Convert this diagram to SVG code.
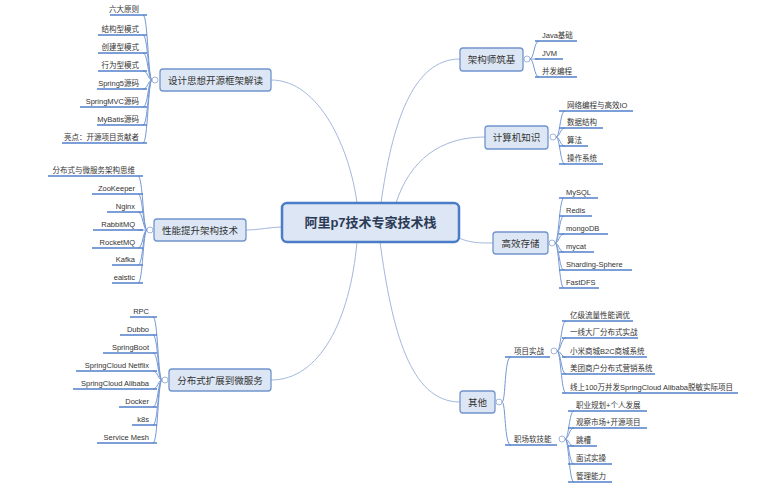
<svg xmlns="http://www.w3.org/2000/svg" width="761" height="500" viewBox="0 0 761 500">
<style>
text{font-family:"Liberation Sans","Noto Sans CJK SC",sans-serif;fill:#333}
.t{font-size:9.5px;text-anchor:middle}
.c{font-size:7.5px}
.l{text-anchor:end}
.box{fill:#dce6f4;stroke:#7094cc;stroke-width:1.3}
.ul{stroke:#4f7fc9;stroke-width:1.5;fill:none}
.main{fill:none;stroke:#a4b8dd;stroke-width:1}
.br{fill:none;stroke:#7598d4;stroke-width:1}
.dot{fill:#fff;stroke:#8aa3cf;stroke-width:0.8}
</style>
<rect width="761" height="500" fill="#fff"/>
<g id="connectors">
<path class="main" d="M357,203 C350,150 320,80 271,80"/>
<path class="main" d="M381,203 C392,125 412,59 460,59"/>
<path class="main" d="M396,203 C410,160 440,137 485,137"/>
<path class="main" d="M246,230 C260,230 270,227 282,227"/>
<path class="main" d="M459,238 C470,243 480,243 493,243"/>
<path class="main" d="M357,242 C350,320 320,380 271,380"/>
<path class="main" d="M380,242 C392,330 410,402 460,402"/>
<!-- group 1 brackets -->
<path class="br" d="M152,80 C148,80 148,15 143,15"/>
<path class="br" d="M152,80 C148,80 148,35 143,35"/>
<path class="br" d="M152,80 C148,80 148,53 143,53"/>
<path class="br" d="M152,80 C148,80 148,71 143,71"/>
<path class="br" d="M152,80 C148,80 148,89 143,89"/>
<path class="br" d="M152,80 C148,80 148,107 143,107"/>
<path class="br" d="M152,80 C148,80 148,125 143,125"/>
<path class="br" d="M152,80 C148,80 148,143 143,143"/>
<!-- group 2 -->
<path class="br" d="M147,230 C143,230 143,176 138,176"/>
<path class="br" d="M147,230 C143,230 143,194 138,194"/>
<path class="br" d="M147,230 C143,230 143,212 138,212"/>
<path class="br" d="M147,230 C143,230 143,230 138,230"/>
<path class="br" d="M147,230 C143,230 143,248 138,248"/>
<path class="br" d="M147,230 C143,230 143,265 138,265"/>
<path class="br" d="M147,230 C143,230 143,283 138,283"/>
<!-- group 3 -->
<path class="br" d="M162,380 C158,380 158,317 153,317"/>
<path class="br" d="M162,380 C158,380 158,335 153,335"/>
<path class="br" d="M162,380 C158,380 158,353 153,353"/>
<path class="br" d="M162,380 C158,380 158,371 153,371"/>
<path class="br" d="M162,380 C158,380 158,389 153,389"/>
<path class="br" d="M162,380 C158,380 158,407 153,407"/>
<path class="br" d="M162,380 C158,380 158,425 153,425"/>
<path class="br" d="M162,380 C158,380 158,443 153,443"/>
<!-- 架构师筑基 -->
<path class="br" d="M530,59 C534,59 534,41 539,41"/>
<path class="br" d="M530,59 C534,59 534,59 539,59"/>
<path class="br" d="M530,59 C534,59 534,77 539,77"/>
<!-- 计算机知识 -->
<path class="br" d="M556,137 C560,137 560,111 565,111"/>
<path class="br" d="M556,137 C560,137 560,128 565,128"/>
<path class="br" d="M556,137 C560,137 560,146 565,146"/>
<path class="br" d="M556,137 C560,137 560,164 565,164"/>
<!-- 高效存储 -->
<path class="br" d="M555,243 C559,243 559,198 564,198"/>
<path class="br" d="M555,243 C559,243 559,216 564,216"/>
<path class="br" d="M555,243 C559,243 559,234 564,234"/>
<path class="br" d="M555,243 C559,243 559,252 564,252"/>
<path class="br" d="M555,243 C559,243 559,270 564,270"/>
<path class="br" d="M555,243 C559,243 559,288 564,288"/>
<!-- 其他 -->
<path class="br" d="M502,402 C506,402 504,357 511,357"/>
<path class="br" d="M502,402 C506,402 504,445 511,445"/>
<!-- 项目实战 -->
<path class="br" d="M557,351 C561,351 561,321 566,321"/>
<path class="br" d="M557,351 C561,351 561,338 566,338"/>
<path class="br" d="M557,351 C561,351 561,357 566,357"/>
<path class="br" d="M557,351 C561,351 561,374 566,374"/>
<path class="br" d="M557,351 C561,351 561,393 566,393"/>
<!-- 职场软技能 -->
<path class="br" d="M565,439 C569,439 569,411 574,411"/>
<path class="br" d="M565,439 C569,439 569,428 574,428"/>
<path class="br" d="M565,439 C569,439 569,446 574,446"/>
<path class="br" d="M565,439 C569,439 569,464 574,464"/>
<path class="br" d="M565,439 C569,439 569,482 574,482"/>
</g>

<g id="center">
<rect x="282" y="203" width="177" height="39" rx="5" fill="#dce6f4" stroke="#4a7cc7" stroke-width="2.5"/>
<text x="370.5" y="227" text-anchor="middle" font-size="13" font-weight="bold" style="fill:#2b3a55">阿里p7技术专家技术栈</text>
</g>

<g id="node-design">
<rect class="box" x="160" y="69" width="111" height="22" rx="3"/>
<text class="t" x="215.5" y="83.5">设计思想开源框架解读</text>
<circle class="dot" cx="155" cy="80" r="3"/>
</g>
<g id="design-children">
<line class="ul" x1="110" y1="15" x2="147" y2="15"/><text class="c l" x="139" y="12">六大原则</text>
<line class="ul" x1="98" y1="35" x2="147" y2="35"/><text class="c l" x="139" y="32">结构型模式</text>
<line class="ul" x1="98" y1="53" x2="147" y2="53"/><text class="c l" x="139" y="50">创建型模式</text>
<line class="ul" x1="98" y1="71" x2="147" y2="71"/><text class="c l" x="139" y="68">行为型模式</text>
<line class="ul" x1="97" y1="89" x2="147" y2="89"/><text class="c l" x="139" y="86">Spring5源码</text>
<line class="ul" x1="80" y1="107" x2="147" y2="107"/><text class="c l" x="139" y="104">SpringMVC源码</text>
<line class="ul" x1="97" y1="125" x2="147" y2="125"/><text class="c l" x="139" y="122">MyBatis源码</text>
<line class="ul" x1="62" y1="143" x2="147" y2="143"/><text class="c l" x="139" y="140">亮点：开源项目贡献者</text>
</g>

<g id="node-perf">
<rect class="box" x="154" y="219" width="92" height="22" rx="3"/>
<text class="t" x="200" y="233.5">性能提升架构技术</text>
<circle class="dot" cx="150" cy="230" r="3"/>
</g>
<g id="perf-children">
<line class="ul" x1="48" y1="176" x2="143" y2="176"/><text class="c l" x="135" y="173">分布式与微服务架构思维</text>
<line class="ul" x1="92" y1="194" x2="143" y2="194"/><text class="c l" x="135" y="191">ZooKeeper</text>
<line class="ul" x1="107" y1="212" x2="143" y2="212"/><text class="c l" x="135" y="209">Nginx</text>
<line class="ul" x1="93" y1="230" x2="143" y2="230"/><text class="c l" x="135" y="227">RabbitMQ</text>
<line class="ul" x1="92" y1="248" x2="143" y2="248"/><text class="c l" x="135" y="245">RocketMQ</text>
<line class="ul" x1="112" y1="265" x2="143" y2="265"/><text class="c l" x="135" y="262">Kafka</text>
<line class="ul" x1="112" y1="283" x2="143" y2="283"/><text class="c l" x="135" y="280">ealstic</text>
</g>

<g id="node-micro">
<rect class="box" x="169" y="369" width="102" height="22" rx="3"/>
<text class="t" x="220" y="383.5">分布式扩展到微服务</text>
<circle class="dot" cx="165" cy="380" r="3"/>
</g>
<g id="micro-children">
<line class="ul" x1="130" y1="317" x2="157" y2="317"/><text class="c l" x="149" y="314">RPC</text>
<line class="ul" x1="120" y1="335" x2="157" y2="335"/><text class="c l" x="149" y="332">Dubbo</text>
<line class="ul" x1="103" y1="353" x2="157" y2="353"/><text class="c l" x="149" y="350">SpringBoot</text>
<line class="ul" x1="76" y1="371" x2="157" y2="371"/><text class="c l" x="149" y="368">SpringCloud Netflix</text>
<line class="ul" x1="73" y1="389" x2="157" y2="389"/><text class="c l" x="149" y="386">SpringCloud Alibaba</text>
<line class="ul" x1="119" y1="407" x2="157" y2="407"/><text class="c l" x="149" y="404">Docker</text>
<line class="ul" x1="132" y1="425" x2="157" y2="425"/><text class="c l" x="149" y="422">k8s</text>
<line class="ul" x1="97" y1="443" x2="157" y2="443"/><text class="c l" x="149" y="440">Service Mesh</text>
</g>

<g id="node-arch">
<rect class="box" x="460" y="48" width="63" height="23" rx="3"/>
<text class="t" x="491.5" y="63">架构师筑基</text>
<circle class="dot" cx="527" cy="59" r="3"/>
</g>
<g id="arch-children">
<line class="ul" x1="535" y1="41" x2="577" y2="41"/><text class="c" x="542" y="38">Java基础</text>
<line class="ul" x1="535" y1="59" x2="563" y2="59"/><text class="c" x="542" y="56">JVM</text>
<line class="ul" x1="535" y1="77" x2="577" y2="77"/><text class="c" x="542" y="74">并发编程</text>
</g>

<g id="node-cs">
<rect class="box" x="485" y="126" width="63" height="23" rx="3"/>
<text class="t" x="516.5" y="141">计算机知识</text>
<circle class="dot" cx="553" cy="137" r="3"/>
</g>
<g id="cs-children">
<line class="ul" x1="559" y1="111" x2="633" y2="111"/><text class="c" x="567" y="108">网络编程与高效IO</text>
<line class="ul" x1="559" y1="128" x2="603" y2="128"/><text class="c" x="567" y="125">数据结构</text>
<line class="ul" x1="559" y1="146" x2="588" y2="146"/><text class="c" x="567" y="143">算法</text>
<line class="ul" x1="559" y1="164" x2="603" y2="164"/><text class="c" x="567" y="161">操作系统</text>
</g>

<g id="node-storage">
<rect class="box" x="493" y="232" width="55" height="22" rx="3"/>
<text class="t" x="520.5" y="246.5">高效存储</text>
<circle class="dot" cx="552" cy="243" r="3"/>
</g>
<g id="storage-children">
<line class="ul" x1="559" y1="198" x2="598" y2="198"/><text class="c" x="566" y="195">MySQL</text>
<line class="ul" x1="559" y1="216" x2="592" y2="216"/><text class="c" x="566" y="213">Redis</text>
<line class="ul" x1="559" y1="234" x2="608" y2="234"/><text class="c" x="566" y="231">mongoDB</text>
<line class="ul" x1="559" y1="252" x2="594" y2="252"/><text class="c" x="566" y="249">mycat</text>
<line class="ul" x1="559" y1="270" x2="632" y2="270"/><text class="c" x="566" y="267">Sharding-Sphere</text>
<line class="ul" x1="559" y1="288" x2="599" y2="288"/><text class="c" x="566" y="285">FastDFS</text>
</g>

<g id="node-other">
<rect class="box" x="460" y="391" width="35" height="22" rx="3"/>
<text class="t" x="477.5" y="405.5">其他</text>
<circle class="dot" cx="499" cy="402" r="3"/>
</g>
<g id="node-projects">
<line class="ul" x1="505" y1="357" x2="550" y2="357"/>
<text class="c" x="514" y="354">项目实战</text>
<circle class="dot" cx="554" cy="351" r="3"/>
</g>
<g id="projects-children">
<line class="ul" x1="562" y1="321" x2="633" y2="321"/><text class="c" x="570" y="318">亿级流量性能调优</text>
<line class="ul" x1="562" y1="338" x2="638" y2="338"/><text class="c" x="570" y="335">一线大厂分布式实战</text>
<line class="ul" x1="562" y1="357" x2="647" y2="357"/><text class="c" x="570" y="354">小米商城B2C商城系统</text>
<line class="ul" x1="562" y1="374" x2="655" y2="374"/><text class="c" x="570" y="371">美团商户分布式营销系统</text>
<line class="ul" x1="562" y1="393" x2="738" y2="393"/><text class="c" x="570" y="390">线上100万并发SpringCloud Alibaba脱敏实际项目</text>
</g>
<g id="node-softskills">
<line class="ul" x1="505" y1="445" x2="557" y2="445"/>
<text class="c" x="514" y="442">职场软技能</text>
<circle class="dot" cx="562" cy="439" r="3"/>
</g>
<g id="softskills-children">
<line class="ul" x1="568" y1="411" x2="647" y2="411"/><text class="c" x="576" y="408">职业规划+个人发展</text>
<line class="ul" x1="568" y1="428" x2="647" y2="428"/><text class="c" x="576" y="425">观察市场+开源项目</text>
<line class="ul" x1="568" y1="446" x2="597" y2="446"/><text class="c" x="576" y="443">跳槽</text>
<line class="ul" x1="568" y1="464" x2="612" y2="464"/><text class="c" x="576" y="461">面试实操</text>
<line class="ul" x1="568" y1="482" x2="612" y2="482"/><text class="c" x="576" y="479">管理能力</text>
</g>
</svg>
